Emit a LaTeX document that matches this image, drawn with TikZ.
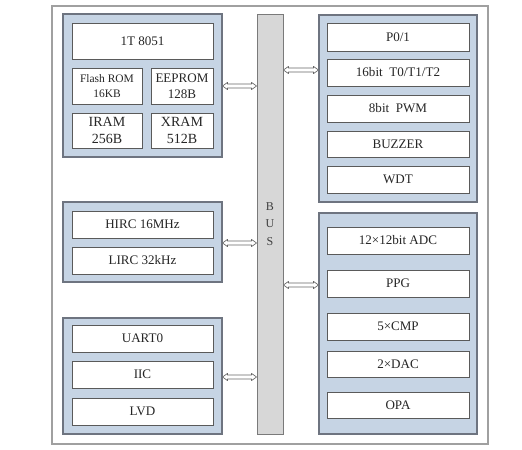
\documentclass[tikz,border=0pt]{standalone}
\usepackage{fontspec}
\setmainfont{Liberation Serif}
\usetikzlibrary{fit,calc}
\definecolor{framegray}{HTML}{A0A0A0}
\definecolor{grpfill}{HTML}{C6D4E4}
\definecolor{grpdraw}{HTML}{6E7480}
\definecolor{boxdraw}{HTML}{5A5A5A}
\definecolor{busfill}{HTML}{D7D7D7}
\definecolor{busdraw}{HTML}{7A7A7A}
\newcommand{\hollowarrow}[2]{%
  \draw[busarrow] (#1) -- ($(#1)+(5,-3.6)$) -- ($(#1)+(5,-2)$) -- ($(#2)+(-5,-2)$)
    -- ($(#2)+(-5,-3.6)$) -- (#2) -- ($(#2)+(-5,3.6)$) -- ($(#2)+(-5,2)$)
    -- ($(#1)+(5,2)$) -- ($(#1)+(5,3.6)$) -- cycle;}
\begin{document}
\begin{tikzpicture}[x=0.75pt,y=-0.75pt,
  grp/.style={draw=grpdraw, fill=grpfill, line width=0.8pt, inner sep=0pt},
  inbox/.style={draw=boxdraw, fill=white, line width=0.7pt, inner sep=0pt},
  txt/.style={inner sep=0pt, align=center, font=\fontsize{9.8}{12}\selectfont, text=black!85},
  smalltxt/.style={txt, font=\fontsize{8.6}{11}\selectfont},
  bigtxt/.style={txt, font=\fontsize{10.5}{12.5}\selectfont},
  busbox/.style={draw=busdraw, fill=busfill, line width=0.7pt, inner sep=0pt},
  busarrow/.style={draw=black!60, fill=white, line width=0.5pt, line join=round}
]
\useasboundingbox (0,0) rectangle (522,450);
\fill[white] (0,0) rectangle (522,450);
\node[draw=framegray, line width=0.8pt, inner sep=0pt, fit={(52,6)(488,444)}] (frame) {};
% bus
\node[busbox, fit={(257,14)(283,434)}] (bus) {};
\node[txt, font=\fontsize{9}{11}\selectfont, text=black!75] (bustext) at (270,224) {B\\[2.4pt]U\\[2.4pt]S};
% CPU group
\node[grp, fit={(63,14)(222,157)}] (cpu) {};
\node[inbox, fit={(72,23)(213,59)}] (c8051) {};
\node[txt] at (c8051.center) {1T 8051};
\node[inbox, fit={(72,68)(142,104)}] (flash) {};
\node[smalltxt] at (flash.center) {Flash ROM\\16KB};
\node[inbox, fit={(151,68)(213,104)}] (eeprom) {};
\node[txt] at (eeprom.center) {EEPROM\\128B};
\node[inbox, fit={(72,113)(142,148)}] (iram) {};
\node[bigtxt] at (iram.center) {IRAM\\256B};
\node[inbox, fit={(151,113)(213,148)}] (xram) {};
\node[bigtxt] at (xram.center) {XRAM\\512B};
% clock group
\node[grp, fit={(63,202)(222,282)}] (clk) {};
\node[inbox, fit={(72,211)(213,238)}] (hirc) {};
\node[txt] at (hirc.center) {HIRC 16MHz};
\node[inbox, fit={(72,247)(213,274)}] (lirc) {};
\node[txt] at (lirc.center) {LIRC 32kHz};
% comm group
\node[grp, fit={(63,318)(222,434)}] (com) {};
\node[inbox, fit={(72,325)(213,352)}] (uart) {};
\node[txt] at (uart.center) {UART0};
\node[inbox, fit={(72,361)(213,388)}] (iic) {};
\node[txt] at (iic.center) {IIC};
\node[inbox, fit={(72,398)(213,425)}] (lvd) {};
\node[txt] at (lvd.center) {LVD};
% right group 1
\node[grp, fit={(319,15)(477,202)}] (rg1) {};
\node[inbox, fit={(327,23)(469,51)}] (p01) {};
\node[txt] at (p01.center) {P0/1};
\node[inbox, fit={(327,59)(469,86)}] (tmr) {};
\node[txt] at (tmr.center) {16bit\ \ T0/T1/T2};
\node[inbox, fit={(327,95)(469,122)}] (pwm) {};
\node[txt] at (pwm.center) {8bit\ \ PWM};
\node[inbox, fit={(327,131)(469,157)}] (buz) {};
\node[txt] at (buz.center) {BUZZER};
\node[inbox, fit={(327,166)(469,193)}] (wdt) {};
\node[txt] at (wdt.center) {WDT};
% right group 2
\node[grp, fit={(319,213)(477,434)}] (rg2) {};
\node[inbox, fit={(327,227)(469,254)}] (adc) {};
\node[txt] at (adc.center) {12×12bit ADC};
\node[inbox, fit={(327,270)(469,297)}] (ppg) {};
\node[txt] at (ppg.center) {PPG};
\node[inbox, fit={(327,313)(469,340)}] (cmp) {};
\node[txt] at (cmp.center) {5×CMP};
\node[inbox, fit={(327,351)(469,377)}] (dac) {};
\node[txt] at (dac.center) {2×DAC};
\node[inbox, fit={(327,392)(469,418)}] (opa) {};
\node[txt] at (opa.center) {OPA};
% connectors
\coordinate (ya) at (300,86);
\coordinate (yb) at (300,243);
\coordinate (yc) at (300,377);
\coordinate (yd) at (300,70);
\coordinate (ye) at (300,285);
\hollowarrow{cpu.east |- ya}{bus.west |- ya}
\hollowarrow{clk.east |- yb}{bus.west |- yb}
\hollowarrow{com.east |- yc}{bus.west |- yc}
\hollowarrow{bus.east |- yd}{rg1.west |- yd}
\hollowarrow{bus.east |- ye}{rg2.west |- ye}
\end{tikzpicture}
\end{document}
